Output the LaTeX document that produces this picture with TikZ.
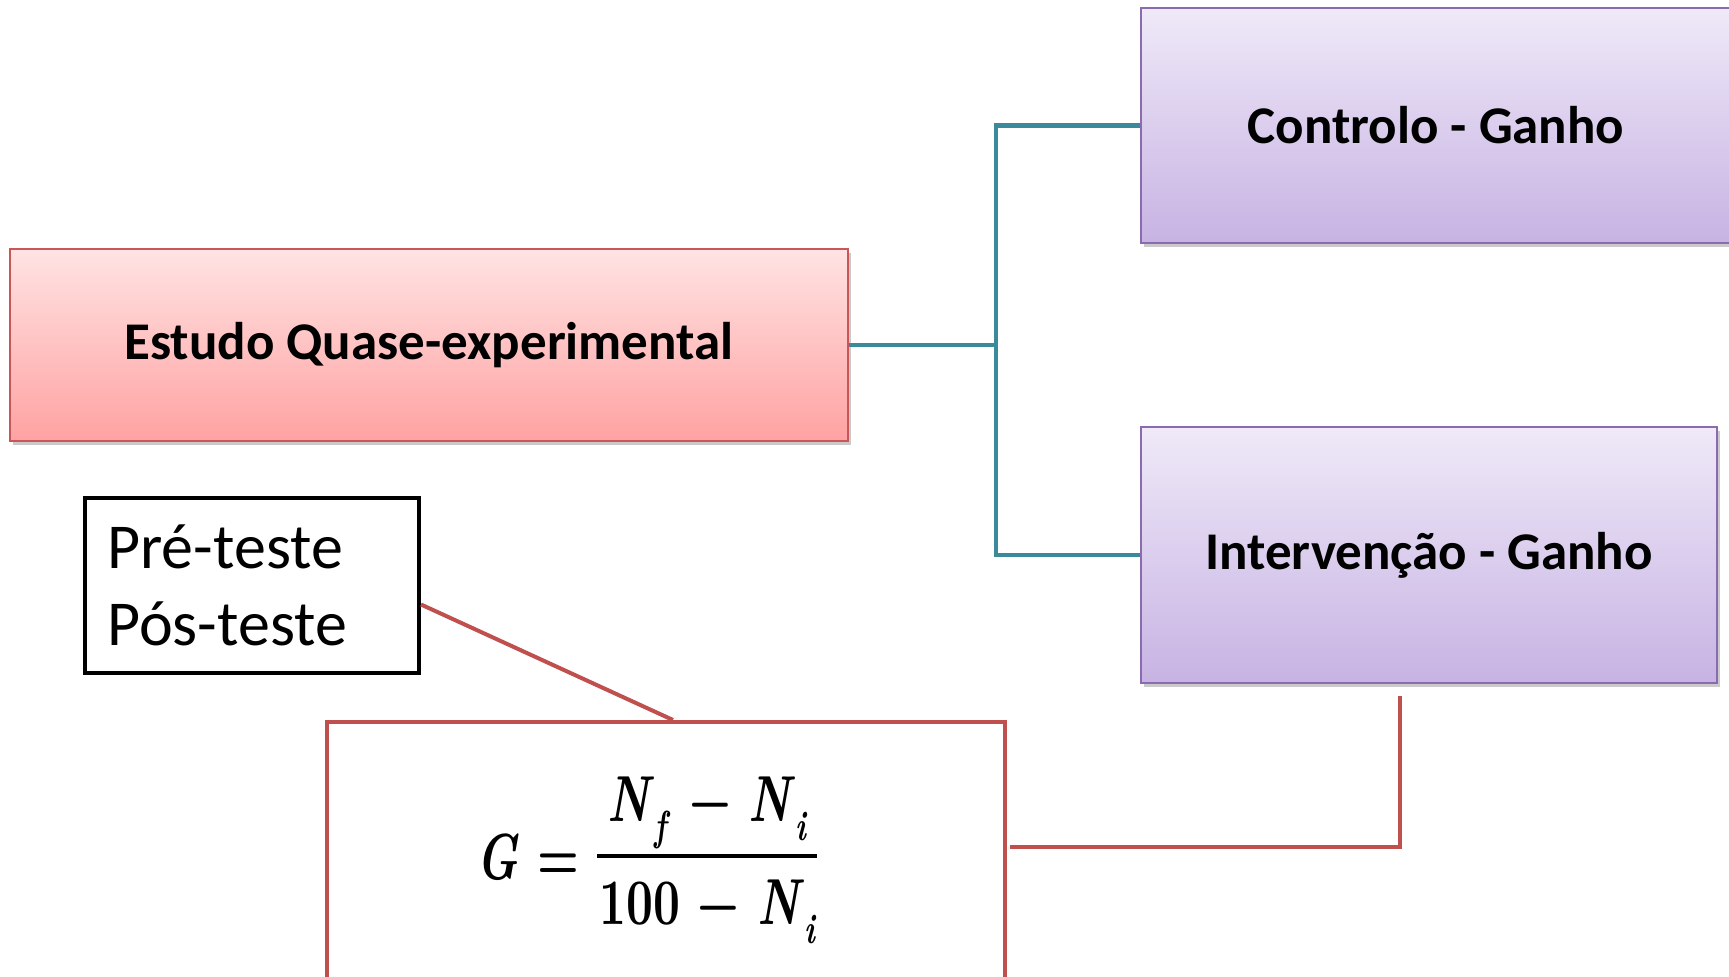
\documentclass[tikz,border=0pt]{standalone}
\usepackage{fontspec}
\setmainfont{Carlito}
\newfontfamily\fmath{lmroman10}[Extension=.otf,UprightFont=*-regular,BoldFont=*-bold,ItalicFont=*-italic,BoldItalicFont=*-bolditalic,FakeStretch=0.72]
\usetikzlibrary{calc,shadows}
\definecolor{redborder}{HTML}{C9575A}
\definecolor{redtop}{HTML}{FFE3E3}
\definecolor{redbot}{HTML}{FFA2A2}
\definecolor{purpborder}{HTML}{8A6BB0}
\definecolor{purptop}{HTML}{EFE9F8}
\definecolor{purpbot}{HTML}{C7B3E3}
\definecolor{tealc}{HTML}{3A8A9C}
\definecolor{redline}{HTML}{C0504D}
\newcommand{\vN}{\textit{N}}
\newcommand{\vsub}[1]{\raisebox{-0.3em}{\fontsize{21}{21}\selectfont\textit{#1}}}
\tikzset{
  boxshadow/.style={drop shadow={shadow xshift=1.5pt,shadow yshift=-2pt,opacity=0.35,fill=black!60}},
  redbox/.style={draw=redborder,line width=1pt,top color=redtop,bottom color=redbot,boxshadow,
    font=\fontsize{26.5}{31}\selectfont\bfseries,inner sep=0pt},
  purpbox/.style={draw=purpborder,line width=1pt,top color=purptop,bottom color=purpbot,boxshadow,
    font=\fontsize{26.5}{31}\selectfont\bfseries,inner sep=0pt},
  tealline/.style={draw=tealc,line width=2.2pt},
  redconn/.style={draw=redline,line width=2pt},
  notebox/.style={draw=black,line width=2pt,inner sep=0pt},
  fstyle/.style={inner sep=0pt,anchor=base,font=\fontsize{32.5}{38}\fmath\bfseries},
  fracbar/.style={draw=black,line width=2.2pt},
}
\begin{document}
\begin{tikzpicture}[x=0.5pt,y=-0.5pt]
\useasboundingbox (0,0) rectangle (1729,977);
\node[redbox,minimum width=419pt,minimum height=96pt] (est) at (429,345) {Estudo Quase-experimental};
\node[purpbox,minimum width=295pt,minimum height=117.5pt] (ctrl) at (1436,125.5) {Controlo - Ganho};
\node[purpbox,minimum width=288pt,minimum height=128pt] (inter) at (1429,555) {Intervenção - Ganho};
\node[notebox,minimum width=167pt,minimum height=87.5pt] (pre) at (252,585.5) {};
\node[anchor=north west,align=left,font=\fontsize{32}{38.5}\selectfont,inner sep=0pt] (pretext) at (107,524) {Pré-teste\\Pós-teste};
\node[draw=redline,line width=2pt,minimum width=339pt,minimum height=146pt,inner sep=0pt] (fbox) at (666,868) {};
% formula
\node[fstyle] (fG) at (528,879) {\textit{G} =};
\node[fstyle] (fnum) at (708,821) {\vN\vsub{f} − \vN\vsub{i}};
\node[fstyle] (fden) at (708,924) {100 − \vN\vsub{i}};
\coordinate (barL) at (597,856);
\coordinate (barR) at (817,856);
\draw[fracbar] (barL) -- (barR);
% connectors
\coordinate (split) at ($(est.east)+(147,0)$);
\draw[tealline] (est.east) -- (split) |- (ctrl.west);
\draw[tealline] (split) |- (inter.west);
\draw[redconn] ($(pre.east)+(0,19)$) -- ($(fbox.north)+(7,0)$);
\coordinate (fstart) at ($(fbox.east)+(3,-21)$);
\coordinate (fend) at ($(inter.south)+(-29,12)$);
\draw[redconn] (fstart) -| (fend);
\end{tikzpicture}
\end{document}
